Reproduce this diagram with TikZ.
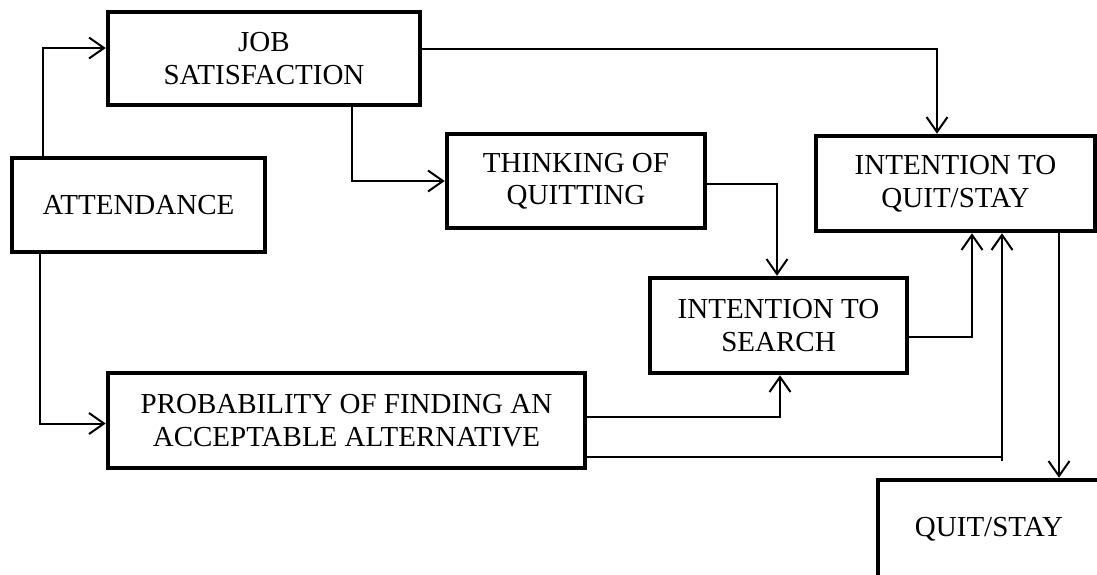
\documentclass[tikz,border=0pt]{standalone}
\usepackage{fontspec}
\setmainfont{Liberation Serif}
\usetikzlibrary{arrows.meta}
\begin{document}
\begin{tikzpicture}[x=1pt,y=-1pt,
  box/.style={draw, line width=4.5pt, inner sep=0pt, align=center,
    font=\fontsize{29}{32.5}\selectfont},
  conn/.style={line width=2pt,
    -{Straight Barb[length=15pt,width=21pt,line width=2pt]}}]
\useasboundingbox (0,0) rectangle (1097,574);
\clip (0,0) rectangle (1097,574);
\fill[white] (0,0) rectangle (1097,574);

\node[box, minimum width=312pt, minimum height=93pt] (job) at (264,58.5) {JOB\\SATISFACTION};
\node[box, minimum width=253pt, minimum height=94pt] (att) at (138.5,205) {ATTENDANCE};
\node[box, minimum width=258pt, minimum height=94pt] (think) at (576,181) {THINKING OF\\QUITTING};
\node[box, minimum width=279pt, minimum height=95pt] (iq) at (955.5,183.5) {INTENTION TO\\QUIT/STAY};
\node[box, minimum width=257pt, minimum height=95pt] (is) at (778.5,325.5) {INTENTION TO\\SEARCH};
\node[box, minimum width=477pt, minimum height=95pt] (prob) at (346.5,420.5) {PROBABILITY OF FINDING AN\\ACCEPTABLE ALTERNATIVE};
\node[box, minimum width=222pt, minimum height=98pt] (qs) at (989,529) {QUIT/STAY};

\draw[conn] ([xshift=-95.5pt]att.north) |- ([yshift=10.5pt]job.west);
\draw[conn] ([xshift=88pt]job.south) |- (think.west);
\draw[conn] ([yshift=9.5pt]job.east) -| ([xshift=-18.5pt]iq.north);
\draw[conn] ([yshift=-3pt]think.east) -| ([xshift=-1.5pt]is.north);
\draw[conn] ([xshift=-98.5pt]att.south) |- ([yshift=-3pt]prob.west);
\draw[conn] ([yshift=3.5pt]prob.east) -| ([xshift=1.5pt]is.south);
\draw[conn] ([yshift=-11.5pt]is.east) -| ([xshift=16.5pt]iq.south);
\draw[conn] ([yshift=-36.5pt]prob.east) -| coordinate[pos=0.5] (bend) ([xshift=46.5pt]iq.south);
\draw[line width=2pt] (bend) -- ++(0,4);
\draw[conn] ([xshift=103.5pt]iq.south) -- ([xshift=103.5pt]iq.south |- qs.north);
\end{tikzpicture}
\end{document}
